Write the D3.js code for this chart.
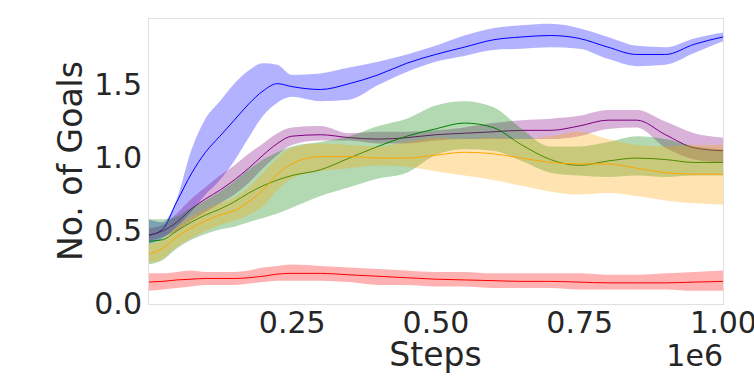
<!DOCTYPE html>
<meta charset="utf-8">
<style>
  body { margin: 0; background: #fff; }
  text { font-family: "DejaVu Sans", sans-serif; fill: #262626; }
  .frame { fill: none; stroke: #e0e0e0; stroke-width: 1; }
</style>
<svg width="754" height="381"></svg>
<script src="https://d3js.org/d3.v7.min.js"></script>
<script>
// steps (x 1e6)
var steps = [0, 0.025, 0.05, 0.075, 0.1, 0.125, 0.15, 0.175, 0.2, 0.225, 0.25, 0.3, 0.35,
             0.4, 0.45, 0.5, 0.55, 0.6, 0.65, 0.7, 0.75, 0.8, 0.85, 0.9, 0.95, 1.0];

var blueMean = [0.47, 0.51, 0.70, 0.89, 1.04, 1.15, 1.26, 1.37, 1.46, 1.51, 1.49, 1.47, 1.51,
                1.57, 1.65, 1.71, 1.76, 1.81, 1.83, 1.84, 1.82, 1.76, 1.71, 1.71, 1.78, 1.83];
var blueHi   = [0.58, 0.56, 0.72, 1.05, 1.27, 1.39, 1.51, 1.60, 1.65, 1.64, 1.57, 1.58, 1.62,
                1.66, 1.71, 1.77, 1.84, 1.89, 1.91, 1.92, 1.89, 1.83, 1.77, 1.76, 1.82, 1.86];
var blueLo   = [0.41, 0.45, 0.53, 0.63, 0.75, 0.85, 0.98, 1.14, 1.29, 1.38, 1.42, 1.39, 1.40,
                1.50, 1.59, 1.66, 1.70, 1.74, 1.75, 1.76, 1.75, 1.68, 1.63, 1.64, 1.72, 1.80];

var purpleMean = [0.47, 0.50, 0.56, 0.65, 0.72, 0.78, 0.85, 0.93, 1.02, 1.10, 1.15, 1.16, 1.14,
                  1.13, 1.14, 1.16, 1.17, 1.18, 1.19, 1.19, 1.22, 1.26, 1.26, 1.16, 1.07, 1.05];
var purpleHi   = [0.52, 0.54, 0.62, 0.72, 0.80, 0.88, 0.95, 1.03, 1.10, 1.17, 1.21, 1.22, 1.17,
                  1.18, 1.18, 1.19, 1.21, 1.24, 1.26, 1.27, 1.29, 1.33, 1.33, 1.25, 1.17, 1.14];
var purpleLo   = [0.43, 0.46, 0.50, 0.57, 0.63, 0.69, 0.75, 0.83, 0.93, 1.02, 1.09, 1.12, 1.12,
                  1.10, 1.10, 1.12, 1.13, 1.13, 1.13, 1.13, 1.15, 1.20, 1.21, 1.07, 0.99, 0.97];

var greenMean = [0.43, 0.44, 0.50, 0.56, 0.61, 0.65, 0.70, 0.76, 0.81, 0.85, 0.88, 0.92, 1.00,
                 1.08, 1.15, 1.20, 1.24, 1.21, 1.09, 0.99, 0.95, 0.98, 1.00, 0.99, 0.97, 0.97];
var greenHi   = [0.58, 0.58, 0.60, 0.66, 0.71, 0.77, 0.84, 0.92, 0.99, 1.04, 1.08, 1.11, 1.15,
                 1.22, 1.27, 1.36, 1.39, 1.35, 1.20, 1.08, 1.08, 1.11, 1.15, 1.13, 1.08, 1.06];
var greenLo   = [0.27, 0.30, 0.38, 0.44, 0.48, 0.51, 0.53, 0.56, 0.59, 0.62, 0.66, 0.74, 0.80,
                 0.86, 0.90, 1.02, 1.06, 1.05, 0.98, 0.90, 0.88, 0.87, 0.88, 0.87, 0.88, 0.88];

var orangeMean = [0.34, 0.38, 0.46, 0.52, 0.57, 0.61, 0.64, 0.70, 0.78, 0.89, 0.96, 1.01, 1.01,
                  1.00, 1.00, 1.02, 1.04, 1.03, 1.00, 0.97, 0.96, 0.96, 0.93, 0.90, 0.89, 0.89];
var orangeHi   = [0.41, 0.44, 0.53, 0.60, 0.65, 0.69, 0.73, 0.80, 0.90, 1.00, 1.07, 1.10, 1.09,
                  1.08, 1.11, 1.14, 1.13, 1.14, 1.13, 1.15, 1.18, 1.13, 1.09, 1.08, 1.09, 1.09];
var orangeLo   = [0.28, 0.31, 0.39, 0.45, 0.50, 0.54, 0.57, 0.61, 0.67, 0.78, 0.86, 0.91, 0.93,
                  0.95, 0.94, 0.91, 0.88, 0.85, 0.81, 0.77, 0.75, 0.76, 0.74, 0.71, 0.69, 0.68];

var redMean = [0.150, 0.155, 0.165, 0.170, 0.175, 0.175, 0.175, 0.180, 0.190, 0.205, 0.210, 0.210, 0.200,
               0.190, 0.180, 0.170, 0.165, 0.160, 0.155, 0.155, 0.150, 0.145, 0.145, 0.145, 0.150, 0.155];
var redHi   = [0.21, 0.21, 0.22, 0.23, 0.22, 0.22, 0.22, 0.23, 0.25, 0.26, 0.27, 0.26, 0.25,
               0.24, 0.23, 0.22, 0.22, 0.21, 0.21, 0.21, 0.21, 0.20, 0.20, 0.21, 0.22, 0.23];
var redLo   = [0.09, 0.10, 0.11, 0.12, 0.13, 0.13, 0.13, 0.14, 0.15, 0.16, 0.16, 0.16, 0.15,
               0.13, 0.13, 0.12, 0.12, 0.11, 0.11, 0.11, 0.10, 0.10, 0.10, 0.10, 0.09, 0.09];

var xTicks = [0.25, 0.5, 0.75, 1.0];
var yTicks = [0.0, 0.5, 1.0, 1.5];

var series = [
  { color: "blue",   mean: blueMean,   hi: blueHi,   lo: blueLo },
  { color: "purple", mean: purpleMean, hi: purpleHi, lo: purpleLo },
  { color: "green",  mean: greenMean,  hi: greenHi,  lo: greenLo },
  { color: "orange", mean: orangeMean, hi: orangeHi, lo: orangeLo },
  { color: "red",    mean: redMean,    hi: redHi,    lo: redLo }
];

var svg = d3.select("svg");
var mLeft = 148, mRight = 723, mTop = 18, mBottom = 304;

var x = d3.scaleLinear().domain([0, 1]).range([mLeft, mRight]);
var y = d3.scaleLinear().domain([0, 1.96]).range([mBottom, mTop]);

var plot = svg.append("g");

series.forEach(function(s) {
  var pts = steps.map(function(t, i) { return { t: t, m: s.mean[i], h: s.hi[i], l: s.lo[i] }; });

  var area = d3.area()
      .x(function(d) { return x(d.t); })
      .y0(function(d) { return y(d.l); })
      .y1(function(d) { return y(d.h); })
      .curve(d3.curveMonotoneX);

  var line = d3.line()
      .x(function(d) { return x(d.t); })
      .y(function(d) { return y(d.m); })
      .curve(d3.curveMonotoneX);

  plot.append("path")
      .datum(pts)
      .attr("d", area)
      .attr("fill", s.color)
      .attr("fill-opacity", 0.3);

  plot.append("path")
      .datum(pts)
      .attr("d", line)
      .attr("fill", "none")
      .attr("stroke", s.color)
      .attr("stroke-width", 1);
});

// frame
svg.append("rect")
    .attr("class", "frame")
    .attr("x", mLeft + 0.5)
    .attr("y", mTop + 0.5)
    .attr("width", mRight - mLeft)
    .attr("height", mBottom - mTop);

// axes
var xAxis = d3.axisBottom(x).tickValues(xTicks).tickSize(0).tickPadding(8)
    .tickFormat(d3.format(".2f"));
var gx = svg.append("g").attr("transform", "translate(0," + mBottom + ")").call(xAxis);
gx.select(".domain").remove();
gx.selectAll("text").style("font-size", "30px").attr("fill", "#262626");

var yAxis = d3.axisLeft(y).tickValues(yTicks).tickSize(0).tickPadding(6)
    .tickFormat(d3.format(".1f"));
var gy = svg.append("g").attr("transform", "translate(" + mLeft + ",0)").call(yAxis);
gy.select(".domain").remove();
gy.selectAll("text").style("font-size", "30px").attr("fill", "#262626");

// labels
svg.append("text")
    .attr("x", (mLeft + mRight) / 2)
    .attr("y", 366)
    .attr("text-anchor", "middle")
    .style("font-size", "33px")
    .text("Steps");

svg.append("text")
    .attr("x", mRight)
    .attr("y", 366)
    .attr("text-anchor", "end")
    .style("font-size", "30px")
    .text("1e6");

svg.append("text")
    .attr("transform", "translate(82," + ((mTop + mBottom) / 2) + ") rotate(-90)")
    .attr("text-anchor", "middle")
    .style("font-size", "33px")
    .text("No. of Goals");
</script>
